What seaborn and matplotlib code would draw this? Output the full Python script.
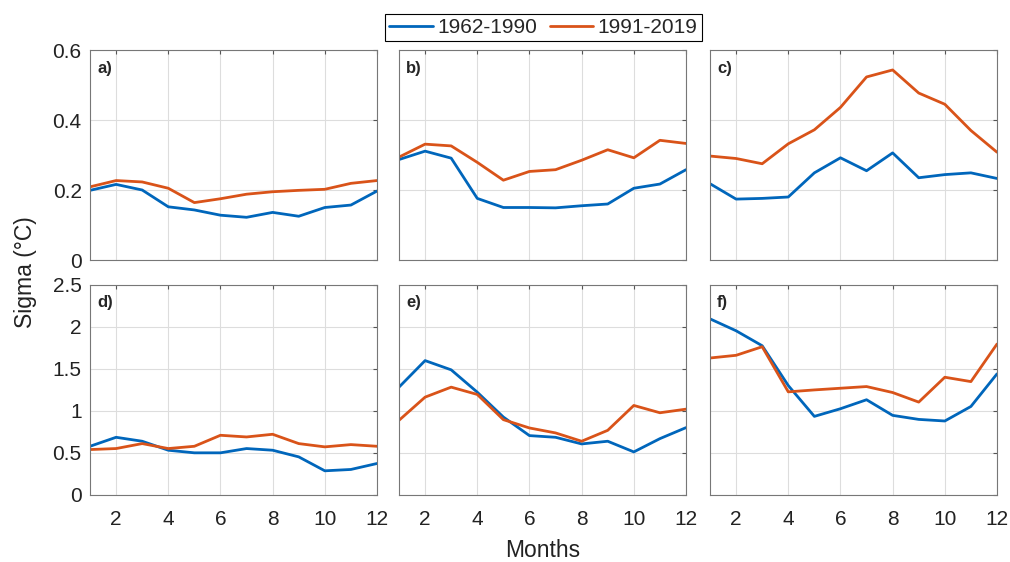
import numpy as np
import pandas as pd
import matplotlib
matplotlib.use("Agg")
import matplotlib.pyplot as plt
import seaborn as sns
from matplotlib.lines import Line2D

months = list(range(1, 13))
series_names = ["1962-1990", "1991-2019"]
panel_labels = ["a)", "b)", "c)", "d)", "e)", "f)"]

a_early = [0.199, 0.216, 0.200, 0.152, 0.143, 0.128, 0.122, 0.136, 0.125, 0.150, 0.157, 0.197]
a_late = [0.209, 0.227, 0.223, 0.205, 0.164, 0.175, 0.188, 0.195, 0.199, 0.202, 0.219, 0.227]
b_early = [0.287, 0.311, 0.291, 0.176, 0.150, 0.150, 0.149, 0.155, 0.160, 0.205, 0.217, 0.258]
b_late = [0.294, 0.331, 0.326, 0.279, 0.228, 0.253, 0.258, 0.285, 0.315, 0.292, 0.342, 0.333]
c_early = [0.218, 0.174, 0.176, 0.180, 0.249, 0.292, 0.255, 0.306, 0.235, 0.244, 0.249, 0.233]
c_late = [0.297, 0.290, 0.275, 0.332, 0.372, 0.436, 0.523, 0.543, 0.477, 0.445, 0.370, 0.308]
d_early = [0.580, 0.687, 0.640, 0.533, 0.502, 0.502, 0.553, 0.533, 0.454, 0.288, 0.304, 0.375]
d_late = [0.541, 0.553, 0.612, 0.553, 0.580, 0.711, 0.691, 0.723, 0.612, 0.573, 0.600, 0.580]
e_early = [1.284, 1.600, 1.490, 1.224, 0.928, 0.707, 0.687, 0.608, 0.640, 0.513, 0.671, 0.802]
e_late = [0.889, 1.165, 1.284, 1.197, 0.897, 0.798, 0.739, 0.640, 0.770, 1.066, 0.979, 1.022]
f_early = [2.097, 1.955, 1.777, 1.303, 0.936, 1.027, 1.134, 0.948, 0.900, 0.881, 1.054, 1.442]
f_late = [1.631, 1.663, 1.765, 1.228, 1.251, 1.271, 1.291, 1.220, 1.106, 1.402, 1.350, 1.797]

panels = [(a_early, a_late), (b_early, b_late), (c_early, c_late),
          (d_early, d_late), (e_early, e_late), (f_early, f_late)]

top_yticks = [0, 0.2, 0.4, 0.6]
top_ylabels = ["0", "0.2", "0.4", "0.6"]
bot_yticks = [0, 0.5, 1, 1.5, 2, 2.5]
bot_ylabels = ["0", "0.5", "1", "1.5", "2", "2.5"]
xticks = [2, 4, 6, 8, 10, 12]

sns.set_style("white")
plt.rcParams["font.family"] = ["Liberation Sans", "DejaVu Sans"]

palette = {"1962-1990": "#0066BB", "1991-2019": "#D95319"}

fig = plt.figure(figsize=(10.1, 5.62), dpi=100)
lefts = [90 / 1010, 399 / 1010, 710 / 1010]
width = 287 / 1010
bottoms = [1 - 260 / 562, 1 - 495 / 562]
height = 210 / 562

for i, (early, late) in enumerate(panels):
    row, col = divmod(i, 3)
    ax = fig.add_axes([lefts[col], bottoms[row], width, height])
    df = pd.DataFrame({
        "Month": months * 2,
        "Sigma": list(early) + list(late),
        "Period": [series_names[0]] * 12 + [series_names[1]] * 12,
    })
    sns.lineplot(data=df, x="Month", y="Sigma", hue="Period", palette=palette,
                 linewidth=2.0, ax=ax, legend=False)
    ax.set_xlim(1, 12)
    ax.set_xticks(xticks)
    if row == 0:
        ax.set_ylim(0, 0.6)
        ax.set_yticks(top_yticks)
        ax.set_yticklabels(top_ylabels if col == 0 else [])
        ax.set_xticklabels([])
    else:
        ax.set_ylim(0, 2.5)
        ax.set_yticks(bot_yticks)
        ax.set_yticklabels(bot_ylabels if col == 0 else [])
        ax.set_xticklabels([str(t) for t in xticks])
    ax.set_xlabel("")
    ax.set_ylabel("")
    ax.grid(True, color="#dddddd", linewidth=0.8)
    ax.set_axisbelow(True)
    for s in ax.spines.values():
        s.set_color("#777777")
        s.set_linewidth(0.8)
    ax.tick_params(direction="in", top=True, right=True, length=3,
                   color="#555555", labelsize=15, labelcolor="#222222")
    ax.tick_params(axis="x", pad=11)
    ax.tick_params(axis="y", pad=6)
    ax.text(0.025, 0.95, panel_labels[i], transform=ax.transAxes,
            fontsize=12, fontweight="bold", va="top", ha="left")

handles = [Line2D([], [], color=palette[n], linewidth=2.0) for n in series_names]
leg = fig.legend(handles, series_names, loc="center", bbox_to_anchor=(0.538, 0.951),
                 ncol=2, fontsize=15, frameon=True, fancybox=False, edgecolor="black",
                 framealpha=1, handlelength=2.1, columnspacing=0.6, handletextpad=0.2,
                 borderpad=0.2, borderaxespad=0)
leg.get_frame().set_linewidth(0.8)

fig.text(0.025, 0.515, "Sigma (°C)", rotation=90, va="center", ha="center", fontsize=16.5,
         color="#222222")
fig.text(0.537, 0.021, "Months", va="center", ha="center", fontsize=16.5, color="#222222")

fig.savefig("out.png", dpi=100)
